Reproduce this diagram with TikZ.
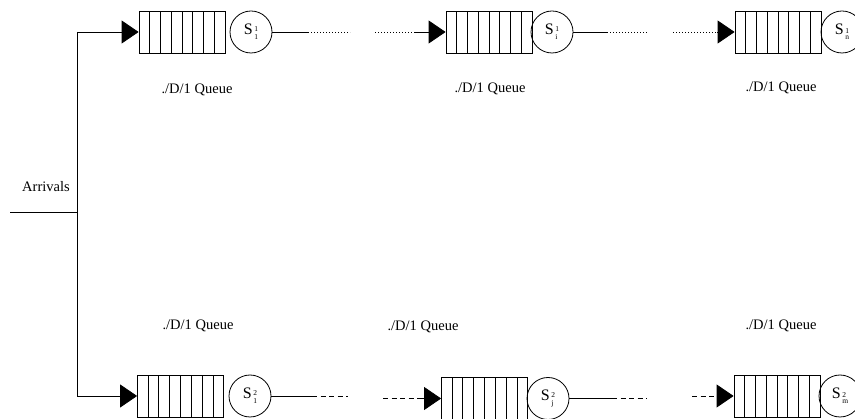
\documentclass[tikz,border=0pt]{standalone}
\usepackage{fontspec}
\setmainfont{Liberation Serif}
\usetikzlibrary{arrows.meta,calc}

% server label: S with a stacked superscript/subscript
\newcommand\srvtext[2]{{\fontsize{16}{16}\selectfont S}\kern1.5pt\raisebox{-5pt}{\fontsize{7.5}{10}\selectfont\shortstack[l]{#1\\#2}}}

\tikzset{
  every path/.style={line width=0.8pt},
  queuebox/.style={draw, minimum width=86pt, minimum height=42pt, inner sep=0pt},
  server/.style={draw, circle, minimum size=42pt, inner sep=0pt},
  qlabel/.style={font=\fontsize{14.5}{17}\selectfont, inner sep=0pt},
  feed/.style={-{Triangle[length=17pt,width=23pt]}},
  dotline/.style={dash pattern=on 0.8pt off 2.2pt},
  dashline/.style={dash pattern=on 5pt off 3.5pt},
}

% seven dividers splitting a queue into eight slots
\newcommand\slots[1]{%
  \foreach \k in {1,...,7}
    \draw ($(#1.south west)!\k/8!(#1.south east)$) -- ($(#1.north west)!\k/8!(#1.north east)$);}

\begin{document}
\begin{tikzpicture}[x=1pt,y=-1pt]
\useasboundingbox (0,0) rectangle (855,419);

% top branch
\node[queuebox] (q11) at (182,32) {};
\node[server]   (s11) at (251,32) {\srvtext{1}{1}};
\node[queuebox] (q12) at (489,32) {};
\node[server]   (s12) at (552,32) {\srvtext{1}{i}};
\node[queuebox] (q13) at (778,32) {};
\node[server]   (s13) at (842,32) {\srvtext{1}{n}};

% bottom branch
\node[queuebox] (q21) at (180.5,396) {};
\node[server]   (s21) at (250,396) {\srvtext{2}{1}};
\node[queuebox] (q22) at (484.5,398.5) {};
\node[server]   (s22) at (548,398.5) {\srvtext{2}{j}};
\node[queuebox] (q23) at (777,396) {};
\node[server]   (s23) at (840,396) {\srvtext{2}{m}};

\slots{q11}\slots{q12}\slots{q13}
\slots{q21}\slots{q22}\slots{q23}

% queue labels
\node[qlabel] (l11) at (197,90) {./D/1 Queue};
\node[qlabel] (l12) at (490,89) {./D/1 Queue};
\node[qlabel] (l13) at (781,88) {./D/1 Queue};
\node[qlabel] (l21) at (198,326) {./D/1 Queue};
\node[qlabel] (l22) at (423,327) {./D/1 Queue};
\node[qlabel] (l23) at (781,326) {./D/1 Queue};

% arrivals and the split
\node[qlabel] (arr) at (46,187) {Arrivals};
\coordinate (in) at (10,212);
\coordinate (split) at (77,212);
\coordinate (top) at (77,32);
\coordinate (bot) at (77,396);
\draw (in) -- (split);
\draw (top) -- (bot);
\draw[feed] (top) -- (q11.west);
\draw[feed] (bot) -- (q21.west);

% top chain connectors
\coordinate (a1) at (308,32);  \coordinate (a2) at (350,32);
\coordinate (a3) at (375,32);  \coordinate (a4) at (415,32);
\draw (s11.east) -- (a1);
\draw[dotline] (a1) -- (a2);
\draw[dotline] (a3) -- (a4);
\draw[feed] (a4) -- (q12.west);
\coordinate (b1) at (607,32);  \coordinate (b2) at (648,32);
\coordinate (b3) at (673,32);  \coordinate (b4) at (717,32);
\draw (s12.east) -- (b1);
\draw[dotline] (b1) -- (b2);
\draw[dotline] (b3) -- (b4);
\draw[feed] (b4) -- (q13.west);

% bottom chain connectors
\coordinate (c1) at (312,396);  \coordinate (c2) at (348,396);
\coordinate (c3) at (383,398.5);  \coordinate (c4) at (417,398.5);
\draw (s21.east) -- (c1);
\draw[dashline] (c1) -- (c2);
\draw[dashline] (c3) -- (c4);
\draw[feed] (c4) -- (q22.west);
\coordinate (d1) at (612,398.5);  \coordinate (d2) at (647,398.5);
\coordinate (d3) at (692,396);  \coordinate (d4) at (718,396);
\draw (s22.east) -- (d1);
\draw[dashline] (d1) -- (d2);
\draw[dashline] (d3) -- (d4);
\draw[feed] (d4) -- (q23.west);
\end{tikzpicture}
\end{document}
